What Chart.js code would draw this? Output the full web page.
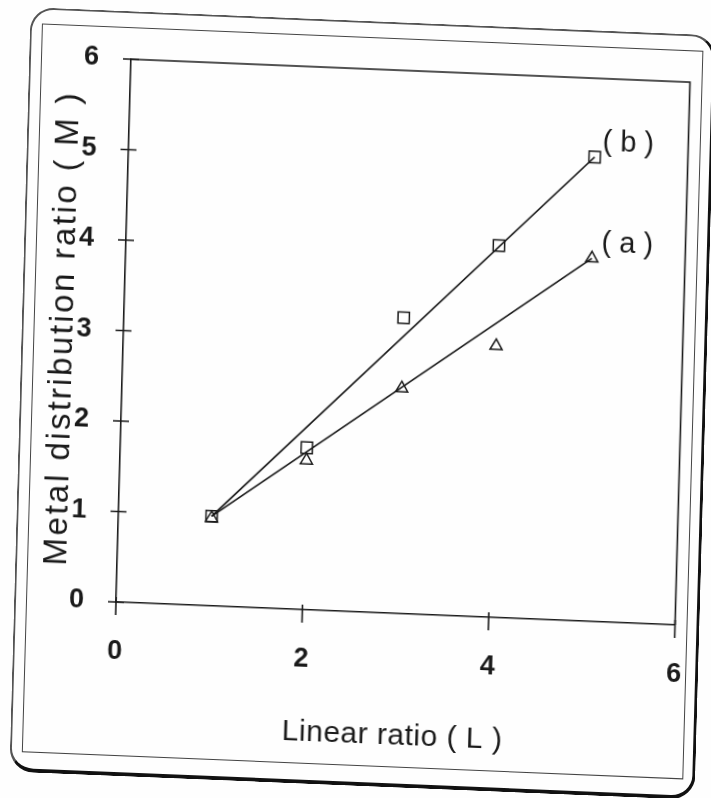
<!DOCTYPE html>
<html>
<head>
<meta charset="utf-8">
<title>Metal distribution ratio vs linear ratio</title>
<script src="https://cdn.jsdelivr.net/npm/chart.js@4.4.1/dist/chart.umd.min.js"></script>
<style>
  html, body { margin: 0; padding: 0; background: #fff; }
  #page { position: relative; width: 711px; height: 798px; overflow: hidden; background: #fefefe; }
  /* the scanned figure is slightly skewed, so the whole sheet is too */
  #sheet {
    position: absolute; left: 0; top: 0; width: 711px; height: 798px;
    transform-origin: 116px 602px;
    transform: matrix(0.99916, 0.041, -0.0276, 0.9996, 0, 0);
  }
  #outer {
    position: absolute; left: 14px; top: 11px; width: 686px; height: 765px;
    box-sizing: border-box; border-radius: 24px;
    border-style: solid; border-color: #555 #111 #111 #555;
    border-width: 2px 3px 4px 2px;
  }
  #inner {
    position: absolute; left: 26px; top: 27px; width: 662px; height: 729px;
    box-sizing: border-box; border: 1.5px solid #444;
  }
  #chart { position: absolute; left: 0; top: 0; }
</style>
</head>
<body>
<div id="page">
  <div id="sheet">
    <div id="outer"></div>
    <div id="inner"></div>
    <canvas id="chart" width="711" height="798"></canvas>
  </div>
</div>
<script>
// values
const ratioL = [1, 2, 3, 4, 5];
const seriesA = [0.97, 1.65, 2.49, 3.0, 4.01];   // triangles, curve (a)
const seriesB = [0.99, 1.79, 3.27, 4.11, 5.13];  // squares, curve (b)
const fitL = [1, 5];
const fitA = [0.99, 4.01];
const fitB = [0.99, 5.13];
const xTicks = [0, 2, 4, 6];
const yTicks = [0, 1, 2, 3, 4, 5, 6];
const curveNames = ['( a )', '( b )'];
const curveLabelPos = [[5.1, 4.18], [5.08, 5.29]];
const xTitle = 'Linear ratio ( L )';
const yTitle = 'Metal distribution ratio ( M )';

const INK = '#1a1a1a';
const FONT = "'Liberation Sans', Arial, sans-serif";

// where the plot box has to sit on the (unskewed) sheet
const target = { left: 116, top: 59, right: 675.5, bottom: 602 };
let yAxisWidth = 116;
let xAxisHeight = 196;

const toPoints = (xs, ys) => xs.map((x, i) => ({ x: x, y: ys[i] }));

const decorations = {
    id: 'decorations',
    afterDraw(chart) {
        const { ctx, chartArea: a, scales: { x, y } } = chart;
        ctx.save();
        ctx.strokeStyle = INK;
        ctx.lineWidth = 1.6;

        // top and right edge of the plot box
        ctx.beginPath();
        ctx.moveTo(a.left, a.top);
        ctx.lineTo(a.right, a.top);
        ctx.lineTo(a.right, a.bottom);
        ctx.stroke();

        // tick marks cross the axes
        ctx.beginPath();
        yTicks.forEach(v => {
            const py = y.getPixelForValue(v);
            ctx.moveTo(a.left - 8, py);
            ctx.lineTo(a.left + 8, py);
        });
        xTicks.forEach(v => {
            const px = x.getPixelForValue(v);
            ctx.moveTo(px, a.bottom - 5);
            ctx.lineTo(px, a.bottom + 13);
        });
        ctx.stroke();

        // axis titles
        ctx.fillStyle = INK;
        ctx.textAlign = 'center';
        ctx.textBaseline = 'middle';
        ctx.font = '30px ' + FONT;
        ctx.letterSpacing = '0.5px';
        ctx.fillText(xTitle, (a.left + a.right) / 2, a.bottom + 123);

        ctx.save();
        ctx.translate(a.left - 60, (a.top + a.bottom) / 2);
        ctx.rotate(-Math.PI / 2);
        ctx.font = '33px ' + FONT;
        ctx.letterSpacing = '2.5px';
        ctx.fillText(yTitle, 0, 0);
        ctx.restore();

        // curve names
        ctx.letterSpacing = '0px';
        ctx.textAlign = 'left';
        ctx.font = '29px ' + FONT;
        curveNames.forEach((name, i) => {
            const [lx, ly] = curveLabelPos[i];
            ctx.fillText(name, x.getPixelForValue(lx), y.getPixelForValue(ly));
        });
        ctx.restore();
    }
};

const chart = new Chart(document.getElementById('chart'), {
    type: 'scatter',
    data: {
        datasets: [
            {
                label: 'fit b',
                data: toPoints(fitL, fitB),
                showLine: true,
                borderColor: INK,
                borderWidth: 1.7,
                pointRadius: 0
            },
            {
                label: 'fit a',
                data: toPoints(fitL, fitA),
                showLine: true,
                borderColor: INK,
                borderWidth: 1.7,
                pointRadius: 0
            },
            {
                label: '(b)',
                data: toPoints(ratioL, seriesB),
                pointStyle: 'rect',
                pointRadius: 8,
                pointBorderWidth: 1.5,
                pointBorderColor: INK,
                pointBackgroundColor: 'rgba(255,255,255,0)'
            },
            {
                label: '(a)',
                data: toPoints(ratioL, seriesA),
                pointStyle: 'triangle',
                pointRadius: 7,
                pointBorderWidth: 1.5,
                pointBorderColor: INK,
                pointBackgroundColor: 'rgba(255,255,255,0)'
            }
        ]
    },
    options: {
        responsive: false,
        animation: false,
        devicePixelRatio: 1,
        layout: { padding: { left: 0, top: 59, right: 35.5, bottom: 0 } },
        plugins: {
            legend: { display: false },
            tooltip: { enabled: false }
        },
        scales: {
            x: {
                type: 'linear',
                min: 0,
                max: 6,
                afterFit: s => { s.height = xAxisHeight; },
                afterBuildTicks: s => { s.ticks = xTicks.map(v => ({ value: v })); },
                grid: { display: false },
                border: { display: true, color: INK, width: 1.6 },
                ticks: {
                    padding: 25,
                    color: INK,
                    font: { family: FONT, size: 27, weight: 'bold' }
                }
            },
            y: {
                type: 'linear',
                min: 0,
                max: 6,
                afterFit: s => { s.width = yAxisWidth; },
                afterBuildTicks: s => { s.ticks = yTicks.map(v => ({ value: v })); },
                grid: { display: false },
                border: { display: true, color: INK, width: 1.6 },
                ticks: {
                    padding: 24,
                    color: INK,
                    font: { family: FONT, size: 27, weight: 'bold' }
                }
            }
        }
    },
    plugins: [decorations]
});

// nudge the layout so the plot box lands exactly on the target
const area = chart.chartArea;
const pad = chart.options.layout.padding;
yAxisWidth += target.left - area.left;
pad.right += area.right - target.right;
pad.top += target.top - area.top;
xAxisHeight += area.bottom - target.bottom;
chart.update();
</script>
</body>
</html>
